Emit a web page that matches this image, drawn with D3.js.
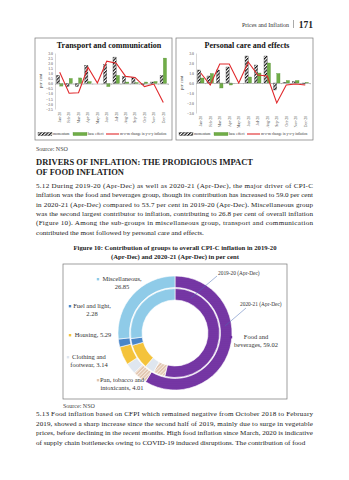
<!DOCTYPE html>
<html>
<head>
<meta charset="utf-8">
<script src="https://cdn.jsdelivr.net/npm/d3@7"></script>
<style>
  html, body { margin: 0; padding: 0; background: #fff; }
</style>
</head>
<body>
<div id="page"></div>
<script>
// monthly decomposition, Jan-20 .. Dec-20
var months = ["Jan-20", "Feb-20", "Mar-20", "Apr-20", "May-20", "Jun-20",
              "Jul-20", "Aug-20", "Sep-20", "Oct-20", "Nov-20", "Dec-20"];

var transportMomentum = [0.8, -0.3, -0.3, 1.8, 0, 1.9, 2.6, 0.7, 0.6, -0.1, 0.15, 0.8];
var transportBase     = [-0.25, 0.5, 0.55, 0.2, 0, -0.3, 0.8, 0.15, 0.1, 0.15, 0.2, 2.5];
var transportChange   = [1.1, -0.95, -0.9, 1.6, 0.05, 2.2, 2.0, 0.7, 0.6, -0.3, -0.05, -1.85];
var transportTicks    = [3, 2.5, 2, 1.5, 1, 0.5, 0, -0.5, -1, -1.5, -2, -2.5];

var personalMomentum = [1.3, 0.7, 1.3, 1.6, 0, 2.7, 1.8, 2.7, -0.7, 0.05, 0.15, -0.1];
var personalBase     = [0.5, 0.95, -0.5, -0.2, 0, 0.6, 1.0, 2.0, 0.95, 0.25, 0.25, 0.05];
var personalChange   = [1.0, -0.2, 1.9, 1.9, 0, 2.1, 0.8, 0.7, -2.0, -0.2, -0.1, -0.2];
var personalTicks    = [3, 2, 1, 0, -1, -2, -3];

// contribution to overall CPI-C inflation, per cent
var groups   = ["Food and beverages", "Pan, tobacco and intoxicants", "Clothing and footwear",
                "Housing", "Fuel and light", "Miscellaneous"];
var share1920 = [53.7, 4.3, 3.5, 9.0, 2.5, 27.0];
var share2021 = [59.02, 4.01, 3.14, 5.29, 2.28, 26.85];

var SERIF = "'Liberation Serif', Tinos, 'Times New Roman', serif";
var W = 349, H = 480;
var svg = d3.select("#page").append("svg")
    .attr("width", W).attr("height", H)
    .attr("font-family", SERIF)
    .style("display", "block");

svg.append("rect").attr("width", W).attr("height", H).attr("fill", "#fff");

var defs = svg.append("defs");

// black/white zigzag for momentum bars
var hatch = defs.append("pattern").attr("id", "hatch")
    .attr("patternUnits", "userSpaceOnUse").attr("width", 2.4).attr("height", 2.4)
    .attr("patternTransform", "rotate(45)");
hatch.append("rect").attr("width", 2.4).attr("height", 2.4).attr("fill", "#fff");
hatch.append("rect").attr("width", 1.2).attr("height", 2.4).attr("fill", "#111");

// purple with fine light dots
var dots = defs.append("pattern").attr("id", "dots")
    .attr("patternUnits", "userSpaceOnUse").attr("width", 2).attr("height", 2);
dots.append("rect").attr("width", 2).attr("height", 2).attr("fill", "#6f2ea0");
dots.append("circle").attr("cx", 1).attr("cy", 1).attr("r", 0.45).attr("fill", "#9a6cc0");

// tan with light diagonals
var tan = defs.append("pattern").attr("id", "tan")
    .attr("patternUnits", "userSpaceOnUse").attr("width", 2.5).attr("height", 2.5)
    .attr("patternTransform", "rotate(45)");
tan.append("rect").attr("width", 2.5).attr("height", 2.5).attr("fill", "#e2c6b0");
tan.append("rect").attr("width", 0.9).attr("height", 2.5).attr("fill", "#f7ece3");

// ---- running header
svg.append("text").attr("x", 289).attr("y", 27).attr("text-anchor", "end")
    .attr("font-size", 6).attr("fill", "#333").text("Prices and Inflation");
svg.append("line").attr("x1", 293.5).attr("x2", 293.5).attr("y1", 20).attr("y2", 28)
    .attr("stroke", "#555").attr("stroke-width", 0.5);
svg.append("text").attr("x", 313).attr("y", 28).attr("text-anchor", "end")
    .attr("font-size", 9.5).attr("font-weight", "bold").attr("fill", "#222").text("171");

// ---- small decomposition panels
function panel(o) {
    var g = svg.append("g");
    g.append("rect").attr("x", o.x).attr("y", o.y).attr("width", o.w).attr("height", o.h)
        .attr("fill", "#fff").attr("stroke", "#777").attr("stroke-width", 0.7);

    g.append("text").attr("x", o.tx).attr("y", o.y + 10)
        .attr("text-anchor", "middle").attr("font-size", 8).attr("font-weight", "bold")
        .attr("fill", "#111").text(o.title);

    var y = d3.scaleLinear().domain(o.domain).range([o.y1, o.y0]);
    var x = d3.scaleBand().domain(months).range([o.x0, o.x1]).paddingInner(0.3).paddingOuter(0.15);
    var sub = d3.scaleBand().domain(["m", "b"]).range([0, x.bandwidth()]).padding(0.02);

    var yAxis = d3.axisLeft(y).tickValues(o.ticks).tickSize(0).tickPadding(2);
    var ay = g.append("g").attr("transform", "translate(" + o.x0 + ",0)").call(yAxis)
        .attr("font-family", SERIF);
    ay.select(".domain").attr("stroke", "#999").attr("stroke-width", 0.4);
    ay.selectAll("text").attr("font-size", 3.8).attr("fill", "#444");

    g.append("text").attr("transform", "translate(" + (o.x + 7) + "," + ((o.y0 + o.y1) / 2) + ") rotate(-90)")
        .attr("text-anchor", "middle").attr("font-size", 4.4).attr("fill", "#333").text("per cent");

    var bars = g.append("g");
    bars.selectAll(".mom").data(months).enter().append("rect")
        .attr("x", function(d) { return x(d) + sub("m"); })
        .attr("y", function(d, i) { return y(Math.max(0, o.mom[i])); })
        .attr("width", sub.bandwidth())
        .attr("height", function(d, i) { return Math.abs(y(o.mom[i]) - y(0)); })
        .attr("fill", "url(#hatch)").attr("stroke", "#333").attr("stroke-width", 0.3);
    bars.selectAll(".base").data(months).enter().append("rect")
        .attr("x", function(d) { return x(d) + sub("b"); })
        .attr("y", function(d, i) { return y(Math.max(0, o.base[i])); })
        .attr("width", sub.bandwidth())
        .attr("height", function(d, i) { return Math.abs(y(o.base[i]) - y(0)); })
        .attr("fill", "#70ad47").attr("stroke", "#4f8a2f").attr("stroke-width", 0.3);

    // zero line with month ticks
    var ax = g.append("g").attr("transform", "translate(0," + y(0) + ")")
        .call(d3.axisBottom(x).tickSize(1.2).tickFormat(""));
    ax.select(".domain").attr("stroke", "#888").attr("stroke-width", 0.5);
    ax.selectAll(".tick line").attr("stroke", "#888").attr("stroke-width", 0.4)
        .attr("transform", "translate(" + (x.step() / 2) + ",0)");

    var line = d3.line()
        .x(function(d, i) { return x(months[i]) + x.bandwidth() / 2; })
        .y(function(d) { return y(d); });
    g.append("path").datum(o.change).attr("d", line)
        .attr("fill", "none").attr("stroke", "#e0282b").attr("stroke-width", 1.1);

    g.selectAll(".mlab").data(months).enter().append("text")
        .attr("transform", function(d) {
            return "translate(" + (x(d) + x.bandwidth() / 2 + 1.3) + "," + (o.y1 + 3) + ") rotate(-90)";
        })
        .attr("text-anchor", "end").attr("font-size", 3.8).attr("fill", "#444").text(function(d) { return d; });

    // legend
    var ly = o.y + o.h - 6;
    var lg = g.append("g").attr("font-size", 3.6).attr("fill", "#333");
    lg.append("rect").attr("x", o.x + 3).attr("y", ly - 1.6).attr("width", 14).attr("height", 3.2)
        .attr("fill", "url(#hatch)").attr("stroke", "#333").attr("stroke-width", 0.3);
    lg.append("text").attr("x", o.x + 18).attr("y", ly + 1.2).text("momentum");
    lg.append("rect").attr("x", o.x + 38).attr("y", ly - 1.6).attr("width", 14).attr("height", 3.2)
        .attr("fill", "#70ad47").attr("stroke", "#4f8a2f").attr("stroke-width", 0.3);
    lg.append("text").attr("x", o.x + 53).attr("y", ly + 1.2).text("base effect");
    lg.append("line").attr("x1", o.x + 71).attr("x2", o.x + 84).attr("y1", ly).attr("y2", ly)
        .attr("stroke", "#e0282b").attr("stroke-width", 1.1);
    lg.append("text").attr("x", o.x + 85).attr("y", ly + 1.2).text("m-o-m change in y-o-y inflation");
}

panel({
    title: "Transport and communication", tx: 109,
    x: 35, y: 38, w: 137, h: 102,
    x0: 55, x1: 168, y0: 53, y1: 109,
    domain: [-2.5, 3], ticks: transportTicks,
    mom: transportMomentum, base: transportBase, change: transportChange
});

panel({
    title: "Personal care and effects", tx: 247,
    x: 176, y: 38, w: 137, h: 102,
    x0: 196, x1: 310, y0: 53, y1: 113,
    domain: [-3, 3], ticks: personalTicks,
    mom: personalMomentum, base: personalBase, change: personalChange
});

// ---- text block
var body = svg.append("g").attr("fill", "#222");

body.append("text").attr("x", 36).attr("y", 151).attr("font-size", 6).attr("fill", "#444").text("Source: NSO");

var heading = [
    { t: "DRIVERS OF INFLATION: THE PRODIGIOUS IMPACT", w: 217 },
    { t: "OF FOOD INFLATION", w: 88 }
];
body.selectAll(".hd").data(heading).enter().append("text")
    .attr("x", 36).attr("y", function(d, i) { return 165 + i * 10; })
    .attr("font-size", 8).attr("font-weight", "bold")
    .attr("textLength", function(d) { return d.w; })
    .attr("lengthAdjust", "spacingAndGlyphs")
    .text(function(d) { return d.t; });

function paragraph(lines, top, step) {
    body.selectAll(null).data(lines).enter().append("text")
        .attr("x", 36).attr("y", function(d, i) { return top + i * step; })
        .attr("font-size", 7.1)
        .attr("textLength", function(d, i) { return i < lines.length - 1 ? 277 : null; })
        .attr("lengthAdjust", "spacing")
        .text(function(d) { return d; });
}

paragraph([
    "5.12 During 2019-20 (Apr-Dec) as well as 2020-21 (Apr-Dec), the major driver of CPI-C",
    "inflation was the food and beverages group, though its contribution has increased to 59.0 per cent",
    "in 2020-21 (Apr-Dec) compared to 53.7 per cent in 2019-20 (Apr-Dec). Miscellaneous group",
    "was the second largest contributor to inflation, contributing to 26.8 per cent of overall inflation",
    "(Figure 10). Among the sub-groups in miscellaneous group, transport and communication",
    "contributed the most followed by personal care and effects."
], 188, 9.3);

var caption = [
    { t: "Figure 10: Contribution of groups to overall CPI-C inflation in 2019-20", w: 203 },
    { t: "(Apr-Dec) and 2020-21 (Apr-Dec) in per cent", w: 128 }
];
body.selectAll(".cap").data(caption).enter().append("text")
    .attr("x", 175).attr("y", function(d, i) { return 250 + i * 9; })
    .attr("text-anchor", "middle").attr("font-size", 7).attr("font-weight", "bold")
    .attr("textLength", function(d) { return d.w; })
    .attr("lengthAdjust", "spacingAndGlyphs")
    .text(function(d) { return d.t; });

// ---- donut
svg.append("rect").attr("x", 63).attr("y", 264).attr("width", 224).attr("height", 135)
    .attr("fill", "#fff").attr("stroke", "#777").attr("stroke-width", 0.7);

var fills = ["url(#dots)", "url(#tan)", "#dfe6ef", "#f4c33b", "#4a86c8", "#8fcbe8"];
var pie = d3.pie().sort(null).value(function(d) { return d; });
var cx = 175, cy = 333;

var rings = [
    { data: share2021, inner: 45.5, outer: 57 },
    { data: share1920, inner: 33, outer: 44.5 }
];
rings.forEach(function(r) {
    var arc = d3.arc().innerRadius(r.inner).outerRadius(r.outer);
    svg.append("g").attr("transform", "translate(" + cx + "," + cy + ")")
        .selectAll("path").data(pie(r.data)).enter().append("path")
        .attr("d", arc)
        .attr("fill", function(d, i) { return fills[i]; })
        .attr("stroke", "#fff").attr("stroke-width", 0.6);
});

// callouts for the two rings
var ann = svg.append("g").attr("fill", "#333");
ann.append("line").attr("x1", 217).attr("y1", 276).attr("x2", 191).attr("y2", 298)
    .attr("stroke", "#4a6fb5").attr("stroke-width", 0.5);
ann.append("text").attr("x", 218).attr("y", 275).attr("font-size", 5.4).text("2019-20 (Apr-Dec)");
ann.append("line").attr("x1", 246).attr("y1", 308).attr("x2", 225).attr("y2", 326)
    .attr("stroke", "#4a6fb5").attr("stroke-width", 0.5);
ann.append("text").attr("x", 240).attr("y", 306).attr("font-size", 5.4).text("2020-21 (Apr-Dec)");

// category labels with markers, 2020-21 values
var labels = [
    { i: 5, lines: ["Miscellaneous,", "26.85"], x: 122, y: 281, mx: 98 },
    { i: 4, lines: ["Fuel and light,", "2.28"], x: 92, y: 308, mx: 70 },
    { i: 3, lines: ["Housing, 5.29"], x: 93, y: 337, mx: 70 },
    { i: 2, lines: ["Clothing and", "footwear, 3.14"], x: 89, y: 359, mx: 68 },
    { i: 1, lines: ["Pan, tobacco and", "intoxicants, 4.01"], x: 122, y: 382, mx: 98 },
    { i: 0, lines: ["Food and", "beverages, 59.02"], x: 256, y: 339, mx: 231 }
];
var markerFill = ["#6f2ea0", "#e2c6b0", "#dfe6ef", "#f4c33b", "#4a86c8", "#8fcbe8"];
labels.forEach(function(l) {
    ann.append("rect").attr("x", l.mx - 1.2).attr("y", l.y - 3).attr("width", 2.4).attr("height", 2.4)
        .attr("fill", markerFill[l.i]);
    l.lines.forEach(function(t, k) {
        ann.append("text").attr("x", l.x).attr("y", l.y + k * 8.3)
            .attr("text-anchor", "middle").attr("font-size", 6.5).text(t);
    });
});

svg.append("text").attr("x", 63).attr("y", 408).attr("font-size", 6).attr("fill", "#444").text("Source: NSO");

paragraph([
    "5.13 Food inflation based on CFPI which remained negative from October 2018 to February",
    "2019, showed a sharp increase since the second half of 2019, mainly due to surge in vegetable",
    "prices, before declining in the recent months. High food inflation since March, 2020 is indicative",
    "of supply chain bottlenecks owing to COVID-19 induced disruptions. The contribution of food"
], 416, 9.6);
</script>
</body>
</html>
